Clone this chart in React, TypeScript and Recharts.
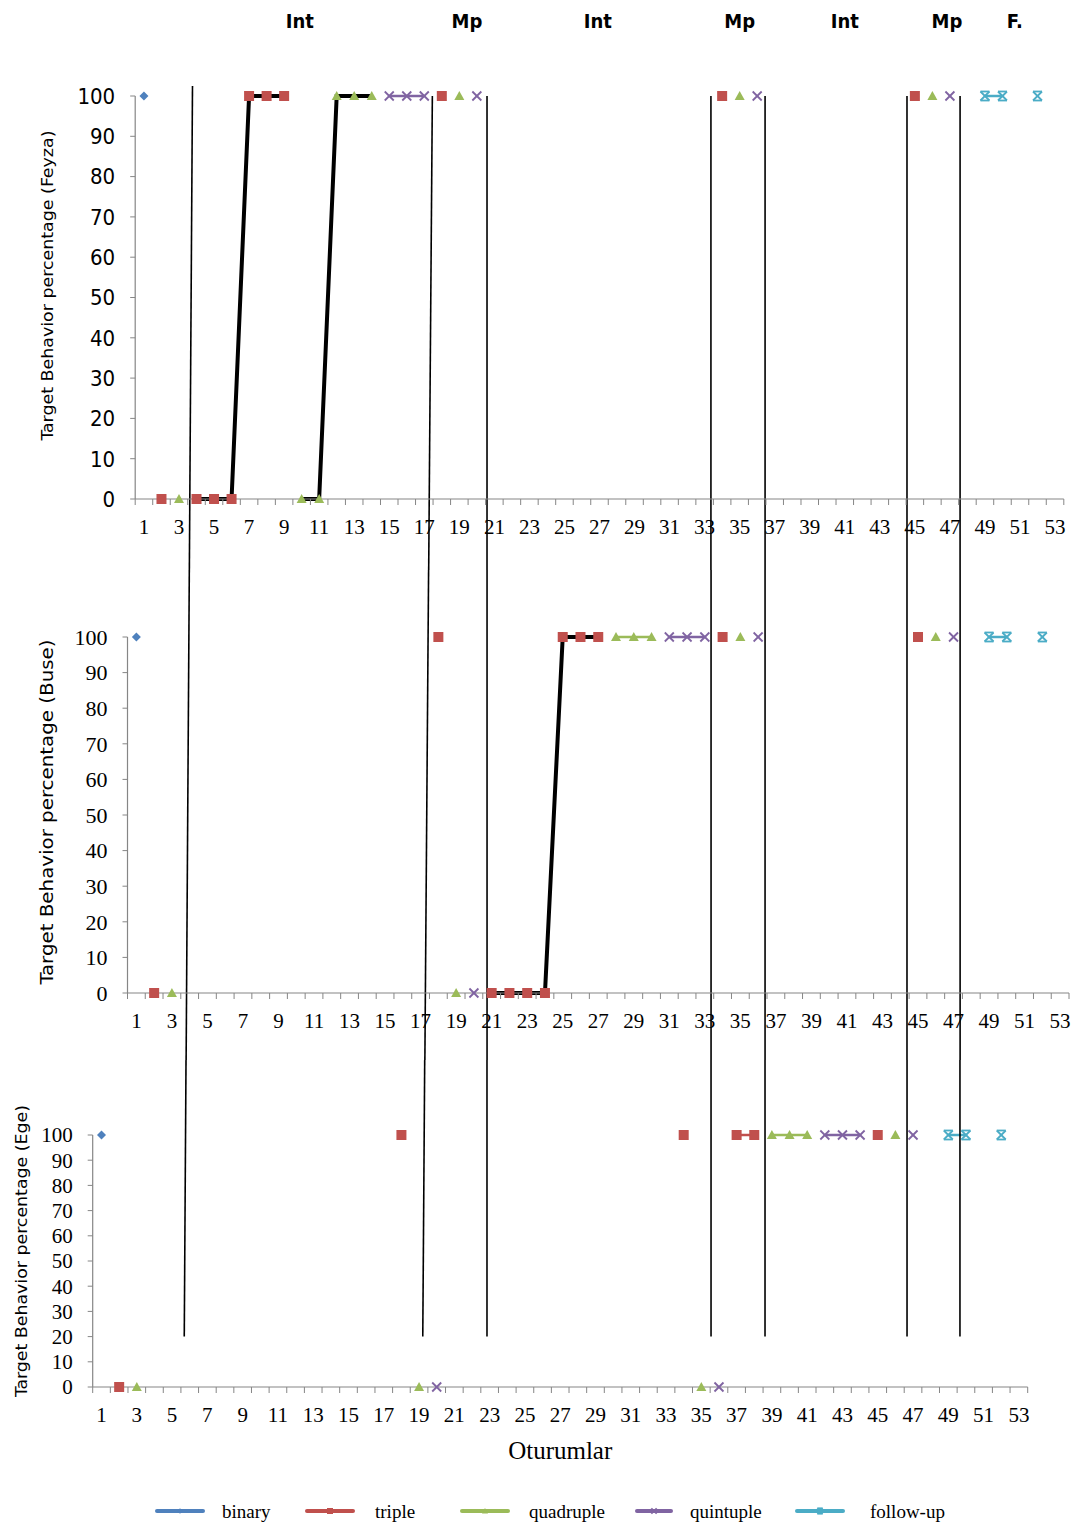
import React from 'react';
import { LineChart, Line, XAxis, YAxis, ReferenceLine, ReferenceDot, Legend, Label } from 'recharts';

type Pt = [number, number];

// ---------- categories / ticks ----------
const SESSIONS: number[] = Array.from({ length: 53 }, (_, i) => i + 1);
const X_TICKS: number[] = [0.5, ...SESSIONS.flatMap((s) => (s % 2 === 1 ? [s, s + 0.5] : [s + 0.5]))];
const Y_TICKS: number[] = [0, 10, 20, 30, 40, 50, 60, 70, 80, 90, 100];

// ---------- Feyza ----------
const feyzaBinary: Pt[] = [[1, 100]];
const feyzaTriple: Pt[] = [[2, 0], [18, 100], [34, 100], [45, 100]];
const feyzaTripleInt: Pt[] = [[4, 0], [5, 0], [6, 0], [7, 100], [8, 100], [9, 100]];
const feyzaQuadruple: Pt[] = [[3, 0], [19, 100], [35, 100], [46, 100]];
const feyzaQuadInt: Pt[] = [[10, 0], [11, 0], [12, 100], [13, 100], [14, 100]];
const feyzaQuintuple: Pt[] = [[15, 100], [16, 100], [17, 100], [20, 100], [36, 100], [47, 100]];
const feyzaFollowUp: Pt[] = [[49, 100], [50, 100], [52, 100]];

// ---------- Buse ----------
const buseBinary: Pt[] = [[1, 100]];
const buseTriple: Pt[] = [[2, 0], [18, 100], [34, 100], [45, 100]];
const buseTripleInt: Pt[] = [[21, 0], [22, 0], [23, 0], [24, 0], [25, 100], [26, 100], [27, 100]];
const buseQuadruple: Pt[] = [[3, 0], [19, 0], [28, 100], [29, 100], [30, 100], [35, 100], [46, 100]];
const buseQuintuple: Pt[] = [[20, 0], [31, 100], [32, 100], [33, 100], [36, 100], [47, 100]];
const buseFollowUp: Pt[] = [[49, 100], [50, 100], [52, 100]];

// ---------- Ege ----------
const egeBinary: Pt[] = [[1, 100]];
const egeTriple: Pt[] = [[2, 0], [18, 100], [34, 100], [37, 100], [38, 100], [45, 100]];
const egeQuadruple: Pt[] = [[3, 0], [19, 0], [35, 0], [39, 100], [40, 100], [41, 100], [46, 100]];
const egeQuintuple: Pt[] = [[20, 0], [36, 0], [42, 100], [43, 100], [44, 100], [47, 100]];
const egeFollowUp: Pt[] = [[49, 100], [50, 100], [52, 100]];

// ---------- phase change lines (session units, at top / bottom of each panel) ----------
type Phase = { top: number; bottom: number; reach?: number };
const feyzaPhases: Phase[] = [
  { top: 3.77, bottom: 3.59, reach: 102.5 },
  { top: 17.46, bottom: 17.25 },
  { top: 20.58, bottom: 20.58 },
  { top: 33.36, bottom: 33.36 },
  { top: 36.45, bottom: 36.45 },
  { top: 44.55, bottom: 44.55 },
  { top: 47.58, bottom: 47.58 },
];
const busePhases: Phase[] = [
  { top: 3.98, bottom: 3.8 },
  { top: 17.45, bottom: 17.24 },
  { top: 20.74, bottom: 20.74 },
  { top: 33.35, bottom: 33.35 },
  { top: 36.39, bottom: 36.39 },
  { top: 44.38, bottom: 44.38 },
  { top: 47.37, bottom: 47.37 },
];
const egePhases: Phase[] = [
  { top: 5.79, bottom: 5.69 },
  { top: 19.32, bottom: 19.21 },
  { top: 22.85, bottom: 22.85 },
  { top: 35.55, bottom: 35.55 },
  { top: 38.61, bottom: 38.61 },
  { top: 46.66, bottom: 46.66 },
  { top: 49.66, bottom: 49.66 },
];

// ---------- phase labels ----------
const PHASE_LABELS: string[] = ['Int', 'Mp', 'Int', 'Mp', 'Int', 'Mp', 'F.'];
const PHASE_LABEL_SESSIONS: number[] = [9.9, 19.43, 26.9, 35.0, 41.0, 46.83, 50.7];

// ---------- styles ----------
const SERIF = "'Liberation Serif', 'Times New Roman', serif";
const NARROW = "'Liberation Sans Narrow', 'DejaVu Sans Condensed', 'Liberation Sans', sans-serif";
const AXIS = '#868686';

type Kind = 'binary' | 'triple' | 'quadruple' | 'quintuple' | 'followUp';
const KIND_STYLE: Record<Kind, { color: string; name: string; shape: string }> = {
  binary: { color: '#4F81BD', name: 'binary', shape: 'diamond' },
  triple: { color: '#C0504D', name: 'triple', shape: 'square' },
  quadruple: { color: '#9BBB59', name: 'quadruple', shape: 'triangle' },
  quintuple: { color: '#8064A2', name: 'quintuple', shape: 'x' },
  followUp: { color: '#4BACC6', name: 'follow-up', shape: 'star' },
};

const LEGEND_LAYOUT: Record<string, { swatchX: number; swatchW: number; textX: number }> = {
  binary: { swatchX: 155, swatchW: 50, textX: 222 },
  triple: { swatchX: 305, swatchW: 50, textX: 375 },
  quadruple: { swatchX: 460, swatchW: 50, textX: 529 },
  quintuple: { swatchX: 635, swatchW: 38, textX: 690 },
  followUp: { swatchX: 795, swatchW: 50, textX: 870 },
};

function marker(shape: string, color: string, cx: number, cy: number, k: number, key?: any) {
  switch (shape) {
    case 'diamond':
      return (
        <polygon key={key} points={`${cx},${cy - 4.5 * k} ${cx + 4.5 * k},${cy} ${cx},${cy + 4.5 * k} ${cx - 4.5 * k},${cy}`} fill={color} />
      );
    case 'square':
      return <rect key={key} x={cx - 5 * k} y={cy - 5 * k} width={10 * k} height={10 * k} fill={color} />;
    case 'triangle':
      return (
        <polygon key={key} points={`${cx},${cy - 5 * k} ${cx + 5 * k},${cy + 4 * k} ${cx - 5 * k},${cy + 4 * k}`} fill={color} />
      );
    case 'x':
      return (
        <g key={key} stroke={color} strokeWidth={1.8}>
          <line x1={cx - 4.5 * k} y1={cy - 4.5 * k} x2={cx + 4.5 * k} y2={cy + 4.5 * k} />
          <line x1={cx - 4.5 * k} y1={cy + 4.5 * k} x2={cx + 4.5 * k} y2={cy - 4.5 * k} />
        </g>
      );
    default:
      return (
        <g key={key} stroke={color} strokeWidth={1.8}>
          <line x1={cx - 4.5 * k} y1={cy - 4.5 * k} x2={cx + 4.5 * k} y2={cy + 4.5 * k} />
          <line x1={cx - 4.5 * k} y1={cy + 4.5 * k} x2={cx + 4.5 * k} y2={cy - 4.5 * k} />
          <line x1={cx - 4.5 * k} y1={cy - 4.5 * k} x2={cx + 4.5 * k} y2={cy - 4.5 * k} />
          <line x1={cx - 4.5 * k} y1={cy + 4.5 * k} x2={cx + 4.5 * k} y2={cy + 4.5 * k} />
        </g>
      );
  }
}

const makeDot = (kind: Kind) => (p: any) => {
  const { cx, cy, value, index } = p;
  if (value == null || cy == null || Number.isNaN(cy)) return <g key={`e${index}`} />;
  const st = KIND_STYLE[kind];
  return marker(st.shape, st.color, cx, cy, 1, `d${index}`);
};

type SeriesDef = { key: string; pts: Pt[]; kind: Kind; intervention?: boolean };

function buildRows(series: SeriesDef[]) {
  return SESSIONS.map((s) => {
    const row: any = { s };
    series.forEach((d) => {
      const hit = d.pts.find((p) => p[0] === s);
      row[d.key] = hit ? hit[1] : null;
    });
    return row;
  });
}

type PanelCfg = {
  top: number;
  height: number;
  margin: { top: number; right: number; bottom: number; left: number };
  yAxisWidth: number;
  xAxisHeight: number;
  yTickFont: string;
  yTickSize: number;
  yTitle: string;
  yTitleX: number;
  yTitleDy: number;
  yTitleSize: number;
  yTitleLength: number;
  phases: Phase[];
  phaseTop: number;
  phaseBottom: number;
  series: SeriesDef[];
  phaseLabels?: boolean;
  phaseLabelY?: number;
  xTitle?: string;
  legend?: boolean;
};

const PANELS: PanelCfg[] = [
  {
    top: 0,
    height: 570,
    margin: { top: 96, right: 13.2, bottom: 31, left: 0 },
    yAxisWidth: 135.2,
    xAxisHeight: 40,
    yTickFont: NARROW,
    yTickSize: 22,
    yTitle: 'Target Behavior percentage (Feyza)',
    yTitleX: 48,
    yTitleDy: -12,
    yTitleSize: 15,
    yTitleLength: 310,
    phases: feyzaPhases,
    phaseTop: 100,
    phaseBottom: -18,
    phaseLabels: true,
    phaseLabelY: 118.6,
    series: [
      { key: 'binary', pts: feyzaBinary, kind: 'binary' },
      { key: 'triple', pts: feyzaTriple, kind: 'triple' },
      { key: 'quadruple', pts: feyzaQuadruple, kind: 'quadruple' },
      { key: 'quintuple', pts: feyzaQuintuple, kind: 'quintuple' },
      { key: 'followUp', pts: feyzaFollowUp, kind: 'followUp' },
      { key: 'tripleInt', pts: feyzaTripleInt, kind: 'triple', intervention: true },
      { key: 'quadInt', pts: feyzaQuadInt, kind: 'quadruple', intervention: true },
    ],
  },
  {
    top: 570,
    height: 490,
    margin: { top: 67, right: 8, bottom: 27, left: 0 },
    yAxisWidth: 127.5,
    xAxisHeight: 40,
    yTickFont: SERIF,
    yTickSize: 22,
    yTitle: 'Target Behavior percentage (Buse)',
    yTitleX: 46,
    yTitleDy: -3,
    yTitleSize: 18,
    yTitleLength: 345,
    phases: busePhases,
    phaseTop: 119,
    phaseBottom: -19,
    series: [
      { key: 'binary', pts: buseBinary, kind: 'binary' },
      { key: 'triple', pts: buseTriple, kind: 'triple' },
      { key: 'quadruple', pts: buseQuadruple, kind: 'quadruple' },
      { key: 'quintuple', pts: buseQuintuple, kind: 'quintuple' },
      { key: 'followUp', pts: buseFollowUp, kind: 'followUp' },
      { key: 'tripleInt', pts: buseTripleInt, kind: 'triple', intervention: true },
    ],
  },
  {
    top: 1060,
    height: 466,
    margin: { top: 75, right: 49.3, bottom: 0, left: 0 },
    yAxisWidth: 92.7,
    xAxisHeight: 109,
    yTickFont: SERIF,
    yTickSize: 21,
    yTitle: 'Target Behavior percentage (Ege)',
    yTitleX: 22,
    yTitleDy: -10,
    yTitleSize: 15,
    yTitleLength: 292,
    phases: egePhases,
    phaseTop: 130,
    phaseBottom: 20,
    xTitle: 'Oturumlar',
    legend: true,
    series: [
      { key: 'binary', pts: egeBinary, kind: 'binary' },
      { key: 'triple', pts: egeTriple, kind: 'triple' },
      { key: 'quadruple', pts: egeQuadruple, kind: 'quadruple' },
      { key: 'quintuple', pts: egeQuintuple, kind: 'quintuple' },
      { key: 'followUp', pts: egeFollowUp, kind: 'followUp' },
    ],
  },
];

const XTick = (props: any) => {
  const { x, y, payload } = props;
  const v = payload.value;
  if (Number.isInteger(v)) {
    return (
      <text x={x} y={y + 28} textAnchor="middle" dominantBaseline="central" fontFamily={SERIF} fontSize={21} fill="#000">
        {v}
      </text>
    );
  }
  return <line x1={x} x2={x} y1={y} y2={y + 6} stroke={AXIS} strokeWidth={1} />;
};

const renderLegend = (props: any) => {
  const payload = props.payload || [];
  return (
    <div style={{ position: 'relative', width: 1077, height: 30 }}>
      {payload.map((item: any) => {
        const key = String(item.dataKey);
        const lay = LEGEND_LAYOUT[key];
        if (!lay) return null;
        const st = KIND_STYLE[key as Kind];
        return (
          <React.Fragment key={key}>
            <svg style={{ position: 'absolute', left: lay.swatchX, top: 0 }} width={lay.swatchW} height={30}>
              <line x1={2} x2={lay.swatchW - 2} y1={15} y2={15} stroke={st.color} strokeWidth={4} strokeLinecap="round" />
              {marker(st.shape, st.color, lay.swatchW / 2, 15, 0.6)}
            </svg>
            <span
              style={{
                position: 'absolute',
                left: lay.textX,
                top: 15,
                transform: 'translateY(-50%)',
                fontFamily: SERIF,
                fontSize: 19,
                color: '#000',
                whiteSpace: 'nowrap',
                lineHeight: 1,
              }}
            >
              {st.name}
            </span>
          </React.Fragment>
        );
      })}
    </div>
  );
};

function Panel({ cfg }: { cfg: PanelCfg }) {
  const rows = buildRows(cfg.series);
  return (
    <div style={{ position: 'absolute', left: 0, top: cfg.top, width: 1077, height: cfg.height }}>
      <LineChart width={1077} height={cfg.height} data={rows} margin={cfg.margin}>
        <XAxis
          dataKey="s"
          type="number"
          domain={[0.5, 53.5]}
          ticks={X_TICKS}
          interval={0}
          tickSize={0}
          tickMargin={0}
          tickLine={false}
          axisLine={{ stroke: AXIS, strokeWidth: 1.2 }}
          tick={(p: any) => <XTick {...p} />}
          height={cfg.xAxisHeight}
        >
          {cfg.xTitle ? (
            <Label
              content={(p: any) => {
                const vb = p.viewBox || {};
                return (
                  <text x={vb.x + vb.width / 2} y={vb.y + 63} textAnchor="middle" dominantBaseline="central" fontFamily={SERIF} fontSize={25} fill="#000">
                    {cfg.xTitle}
                  </text>
                );
              }}
            />
          ) : null}
        </XAxis>
        <YAxis
          type="number"
          domain={[0, 100]}
          ticks={Y_TICKS}
          interval={0}
          width={cfg.yAxisWidth}
          tickSize={5}
          tickMargin={15}
          axisLine={{ stroke: AXIS, strokeWidth: 1.2 }}
          tickLine={{ stroke: AXIS }}
          tick={{ fill: '#000', fontSize: cfg.yTickSize, fontFamily: cfg.yTickFont }}
        >
          <Label
            content={(p: any) => {
              const vb = p.viewBox || {};
              const cx = cfg.yTitleX;
              const cy = vb.y + vb.height / 2 + cfg.yTitleDy;
              return (
                <text
                  x={cx}
                  y={cy}
                  transform={`rotate(-90 ${cx} ${cy})`}
                  textAnchor="middle"
                  dominantBaseline="central"
                  fontFamily={NARROW}
                  fontSize={cfg.yTitleSize}
                  textLength={cfg.yTitleLength}
                  lengthAdjust="spacingAndGlyphs"
                  fill="#000"
                >
                  {cfg.yTitle}
                </text>
              );
            }}
          />
        </YAxis>
        {cfg.series.map((d) => (
          <Line
            key={d.key}
            dataKey={d.key}
            name={KIND_STYLE[d.kind].name}
            type="linear"
            stroke={d.intervention ? '#000' : KIND_STYLE[d.kind].color}
            strokeWidth={d.intervention ? 4 : 2.5}
            dot={makeDot(d.kind)}
            activeDot={false}
            connectNulls={false}
            legendType={d.intervention ? 'none' : 'line'}
            isAnimationActive={false}
          />
        ))}
        {cfg.phases.map((ph, i) => (
          <ReferenceLine
            key={`ph${i}`}
            segment={[
              { x: ph.top, y: ph.reach ?? cfg.phaseTop },
              { x: ph.bottom, y: cfg.phaseBottom },
            ]}
            stroke="#000"
            strokeWidth={1.6}
            ifOverflow="visible"
          />
        ))}
        {cfg.phaseLabels
          ? PHASE_LABELS.map((lab, i) => (
              <ReferenceDot
                key={`pl${i}`}
                x={PHASE_LABEL_SESSIONS[i]}
                y={cfg.phaseLabelY}
                r={0}
                fill="none"
                stroke="none"
                ifOverflow="visible"
                label={{ value: lab, position: 'center', fill: '#000', fontSize: 20, fontWeight: 'bold', fontFamily: NARROW }}
              />
            ))
          : null}
        {cfg.legend ? (
          <Legend verticalAlign="bottom" height={30} wrapperStyle={{ left: 0, width: 1077, height: 30 }} content={renderLegend} />
        ) : null}
      </LineChart>
    </div>
  );
}

export default function App() {
  return (
    <div style={{ position: 'absolute', left: 0, top: 0, width: 1077, height: 1526, background: '#fff' }}>
      {PANELS.map((cfg, i) => (
        <Panel key={i} cfg={cfg} />
      ))}
    </div>
  );
}
